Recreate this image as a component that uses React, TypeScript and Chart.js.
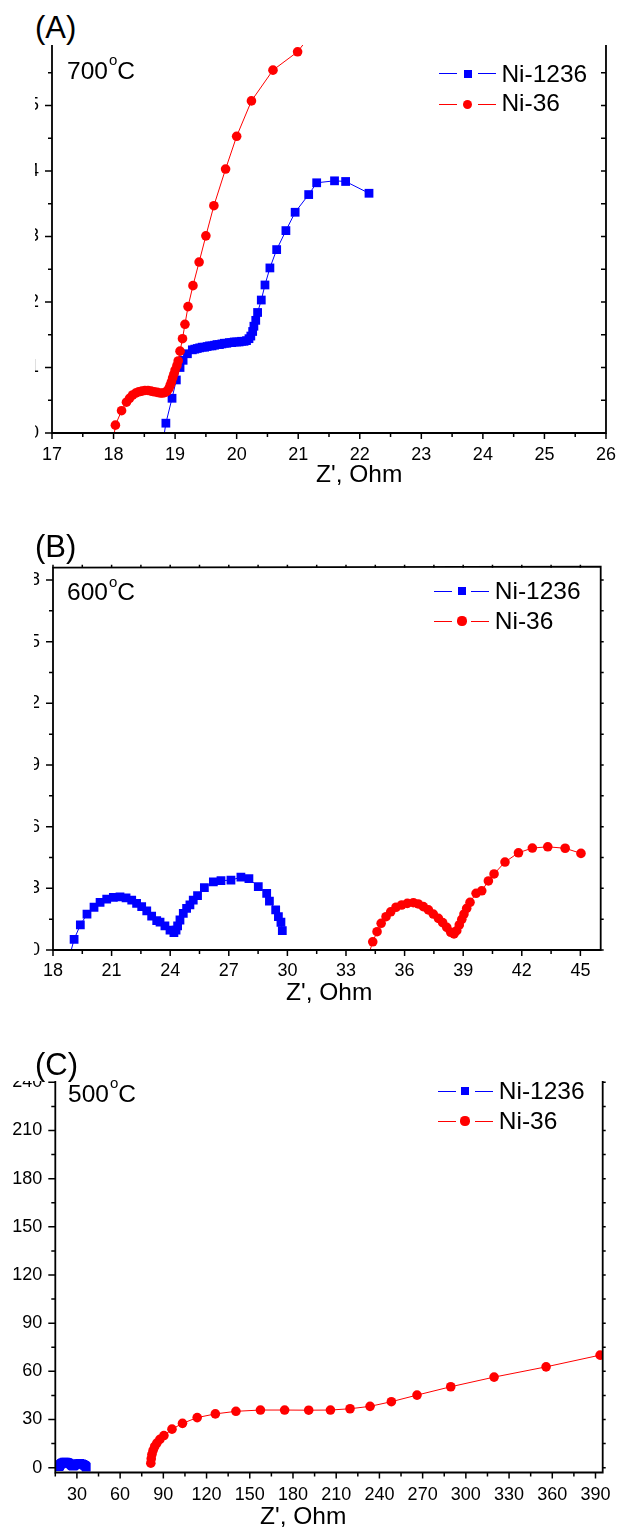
import React, { useEffect, useRef } from "react";
import { Chart, registerables } from "chart.js";

Chart.register(...registerables);

const FONT = '"Liberation Sans", Arial, Helvetica, sans-serif';
const BLUE = "#0000ff";
const RED = "#ff0000";
const SERIES_NAMES = ["Ni-1236", "Ni-36"];

// ---------- Panel A : 700 °C ----------
const a1236X = [18.81, 18.85, 18.95, 19.02, 19.08, 19.13, 19.2, 19.28, 19.32, 19.36, 19.4, 19.44, 19.48, 19.52, 19.56, 19.6, 19.64, 19.68, 19.72, 19.76, 19.8, 19.84, 19.88, 19.92, 19.96, 20.0, 20.04, 20.08, 20.12, 20.16, 20.2, 20.23, 20.26, 20.28, 20.31, 20.34, 20.4, 20.46, 20.54, 20.65, 20.8, 20.95, 21.17, 21.3, 21.59, 21.77, 22.15];
const a1236Y = [-0.1, 0.15, 0.53, 0.81, 1.0, 1.11, 1.21, 1.27, 1.28, 1.29, 1.3, 1.31, 1.31, 1.32, 1.33, 1.33, 1.34, 1.35, 1.35, 1.36, 1.37, 1.37, 1.38, 1.38, 1.39, 1.39, 1.39, 1.4, 1.4, 1.41, 1.44, 1.48, 1.55, 1.63, 1.72, 1.84, 2.03, 2.26, 2.52, 2.8, 3.09, 3.37, 3.64, 3.82, 3.85, 3.84, 3.66];
const a36X = [18.0, 18.03, 18.13, 18.21, 18.26, 18.31, 18.36, 18.41, 18.46, 18.51, 18.56, 18.61, 18.66, 18.71, 18.76, 18.8, 18.84, 18.87, 18.9, 18.92, 18.94, 18.96, 18.98, 19.0, 19.03, 19.05, 19.08, 19.12, 19.16, 19.21, 19.29, 19.39, 19.5, 19.63, 19.82, 20.0, 20.24, 20.59, 20.99, 21.3];
const a36Y = [-0.1, 0.12, 0.34, 0.47, 0.53, 0.58, 0.61, 0.63, 0.64, 0.65, 0.65, 0.64, 0.63, 0.62, 0.61, 0.61, 0.62, 0.64, 0.68, 0.73, 0.78, 0.84, 0.9, 0.96, 1.03, 1.1, 1.25, 1.44, 1.66, 1.93, 2.25, 2.61, 3.01, 3.47, 4.03, 4.53, 5.07, 5.54, 5.82, 6.2];
const aXTicks = [17, 18, 19, 20, 21, 22, 23, 24, 25, 26];
const aYTicks = [0, 1, 2, 3, 4, 5, 6];

// ---------- Panel B : 600 °C ----------
const b1236X = [18.85, 19.08, 19.4, 19.74, 20.1, 20.41, 20.75, 21.09, 21.43, 21.74, 22.03, 22.28, 22.54, 22.8, 23.05, 23.31, 23.48, 23.73, 23.99, 24.19, 24.3, 24.38, 24.5, 24.67, 24.84, 25.01, 25.18, 25.4, 25.75, 26.21, 26.6, 27.11, 27.62, 28.03, 28.51, 28.94, 29.08, 29.4, 29.54, 29.67, 29.74];
const b1236Y = [-0.3, 0.52, 1.22, 1.74, 2.08, 2.32, 2.47, 2.56, 2.59, 2.54, 2.43, 2.27, 2.11, 1.9, 1.65, 1.43, 1.36, 1.17, 0.97, 0.84, 0.97, 1.17, 1.46, 1.78, 2.03, 2.19, 2.43, 2.64, 3.03, 3.32, 3.37, 3.4, 3.54, 3.47, 3.08, 2.76, 2.38, 1.95, 1.62, 1.35, 0.94];
const b36X = [34.1, 34.37, 34.59, 34.8, 35.05, 35.29, 35.56, 35.85, 36.14, 36.45, 36.7, 36.96, 37.22, 37.47, 37.73, 37.95, 38.16, 38.36, 38.53, 38.67, 38.8, 38.93, 39.04, 39.18, 39.35, 39.66, 39.95, 40.29, 40.58, 41.14, 41.83, 42.54, 43.33, 44.22, 45.03];
const b36Y = [-0.4, 0.4, 0.89, 1.3, 1.62, 1.86, 2.08, 2.19, 2.27, 2.3, 2.24, 2.11, 1.95, 1.75, 1.54, 1.33, 1.1, 0.86, 0.78, 0.94, 1.22, 1.49, 1.75, 2.03, 2.32, 2.76, 2.88, 3.36, 3.7, 4.28, 4.73, 4.96, 5.02, 4.95, 4.7];
const bXTicks = [18, 21, 24, 27, 30, 33, 36, 39, 42, 45];
const bYTicks = [0, 3, 6, 9, 12, 15, 18];

// ---------- Panel C : 500 °C ----------
const c1236X = [17.6, 18.0, 18.6, 19.3, 20.2, 21.2, 22.3, 23.4, 24.4, 25.3, 26.1, 26.8, 27.4, 27.9, 28.6, 29.6, 30.8, 32.0, 33.2, 34.3, 35.3, 36.0, 36.5];
const c1236Y = [0.6, 1.3, 2.0, 2.6, 3.1, 3.4, 3.5, 3.3, 2.9, 2.4, 1.8, 1.3, 0.9, 1.3, 1.8, 2.2, 2.5, 2.6, 2.4, 2.0, 1.5, 0.9, 0.4];
const c36X = [81.3, 81.6, 82.1, 82.9, 84.0, 85.5, 87.6, 90.4, 96.0, 103.3, 113.5, 126.1, 140.4, 157.4, 174.2, 190.9, 206.0, 219.6, 233.5, 248.3, 266.1, 289.5, 319.6, 355.7, 393.2];
const c36Y = [2.8, 5.6, 8.3, 10.8, 13.2, 15.3, 17.6, 20.0, 24.0, 27.6, 31.2, 33.5, 35.1, 35.9, 35.9, 35.8, 35.9, 36.7, 38.2, 41.1, 45.2, 50.4, 56.4, 62.8, 70.1];
const cXTicks = [30, 60, 90, 120, 150, 180, 210, 240, 270, 300, 330, 360, 390];
const cYTicks = [0, 30, 60, 90, 120, 150, 180, 210, 240];

const toPoints = (xs: number[], ys: number[]) => xs.map((x, i) => ({ x, y: ys[i] }));

function minorTicks(major: number[], min: number, max: number) {
  const step = major[1] - major[0];
  const out: number[] = [];
  for (let i = -1; i < major.length; i++) {
    const v = (i < 0 ? major[0] - step : major[i]) + step / 2;
    if (v >= min - 1e-9 && v <= max + 1e-9) out.push(v);
  }
  return out;
}

const originAxes = {
  id: "originAxes",
  afterDatasetsDraw(chart: any, _args: any, opts: any) {
    const { ctx, chartArea, scales } = chart;
    const { left, right, top, bottom } = chartArea;
    const xs = scales.x;
    const ys = scales.y;
    ctx.save();
    ctx.strokeStyle = "#000";
    ctx.lineCap = "butt";
    ctx.lineWidth = 1.8;
    ctx.beginPath();
    ctx.moveTo(left, top - 1);
    ctx.lineTo(left, bottom);
    ctx.lineTo(right, bottom);
    ctx.lineTo(right, top - 1);
    if (opts.topSpine) ctx.lineTo(left - 0.9, top);
    ctx.stroke();

    ctx.lineWidth = 1.5;
    const xMaj = opts.xTicks.filter((v: number) => v >= xs.min && v <= xs.max);
    const xMin = minorTicks(opts.xTicks, xs.min, xs.max);
    const yMaj = opts.yTicks.filter((v: number) => v >= ys.min && v <= ys.max);
    const yMin = minorTicks(opts.yTicks, ys.min, ys.max);
    ctx.beginPath();
    const vX = (vals: number[], y0: number, len: number) => {
      vals.forEach((v) => {
        const p = xs.getPixelForValue(v);
        ctx.moveTo(p, y0);
        ctx.lineTo(p, y0 + len);
      });
    };
    const hY = (vals: number[], x0: number, len: number) => {
      vals.forEach((v) => {
        const p = ys.getPixelForValue(v);
        ctx.moveTo(x0, p);
        ctx.lineTo(x0 + len, p);
      });
    };
    vX(xMaj, bottom, 6);
    vX(xMin, bottom, 4);
    hY(yMaj, left, -7);
    hY(yMin, left, -4);
    hY(yMaj, right, opts.rightLen);
    hY(yMin, right, opts.rightLen);
    if (opts.topSpine) {
      vX(xMaj, top, -3);
      vX(xMin, top, -3);
    }
    ctx.stroke();
    ctx.restore();
  },
};

type PanelSpec = {
  label: string;
  temp: string;
  canvasTop: number;
  canvasH: number;
  clipL: number;
  clipT: number;
  clipB: number;
  padT: number;
  padR: number;
  wy: number;
  hx: number;
  xMin: number;
  xMax: number;
  yMin: number;
  yMax: number;
  xTicks: number[];
  yTicks: number[];
  s1: { x: number; y: number }[];
  s2: { x: number; y: number }[];
  xLabelPad: number;
  topSpine: boolean;
  rightLen: number;
  labelPos: [number, number];
  tempPos: [number, number];
  legend: { l1: [number, number]; m: number; l2: [number, number]; tx: number; rows: [number, number]; textTop: [number, number] };
  titlePos: [number, number];
};

const panels: PanelSpec[] = [
  {
    label: "(A)", temp: "700",
    canvasTop: 0, canvasH: 500, clipL: 35, clipT: 45, clipB: 500,
    padT: 40, padR: 15.5, wy: 52, hx: 67,
    xMin: 17, xMax: 26, yMin: 0, yMax: 6,
    xTicks: aXTicks, yTicks: aYTicks,
    s1: toPoints(a1236X, a1236Y), s2: toPoints(a36X, a36Y),
    xLabelPad: 11, topSpine: false, rightLen: -5,
    labelPos: [35, 12.4], tempPos: [67, 58.5],
    legend: { l1: [439, 457], m: 467.7, l2: [478, 496], tx: 501.4, rows: [73.5, 104.4], textTop: [62, 91.3] },
    titlePos: [316, 461.8],
  },
  {
    label: "(B)", temp: "600",
    canvasTop: 500, canvasH: 530, clipL: 34, clipT: 500, clipB: 1030,
    padT: 67.7, padR: 26.3, wy: 53, hx: 80,
    xMin: 18, xMax: 46.04, yMin: 0, yMax: 18.6,
    xTicks: bXTicks, yTicks: bYTicks,
    s1: toPoints(b1236X, b1236Y), s2: toPoints(b36X, b36Y),
    xLabelPad: 10, topSpine: true, rightLen: 3,
    labelPos: [35, 531.4], tempPos: [67, 580.1],
    legend: { l1: [434, 452], m: 462, l2: [471, 489], tx: 494.8, rows: [591, 621], textTop: [579.3, 609.3] },
    titlePos: [286, 980],
  },
  {
    label: "(C)", temp: "500",
    canvasTop: 1030, canvasH: 498, clipL: 0, clipT: 1081, clipB: 1528,
    padT: 44.3, padR: 24.3, wy: 55.3, hx: 55.5,
    xMin: 15, xMax: 395, yMin: -3, yMax: 245,
    xTicks: cXTicks, yTicks: cYTicks,
    s1: toPoints(c1236X, c1236Y), s2: toPoints(c36X, c36Y),
    xLabelPad: 11.5, topSpine: false, rightLen: 3,
    labelPos: [35, 1049.4], tempPos: [68, 1081.8],
    legend: { l1: [437.7, 455.7], m: 465, l2: [475, 492.7], tx: 498.8, rows: [1091, 1121], textTop: [1079.3, 1108.6] },
    titlePos: [260, 1503.5],
  },
];

function PanelChart({ p }: { p: PanelSpec }) {
  const ref = useRef<HTMLCanvasElement>(null);
  useEffect(() => {
    const tickFont = { family: FONT, size: 18 };
    const hiddenGrid = { display: true, drawOnChartArea: false, drawTicks: false, color: "rgba(0,0,0,0)" };
    const chart = new Chart(ref.current as HTMLCanvasElement, {
      type: "line",
      data: {
        datasets: [
          {
            label: SERIES_NAMES[0],
            data: p.s1,
            borderColor: BLUE,
            backgroundColor: BLUE,
            borderWidth: 1,
            pointStyle: "rect",
            pointRadius: 6.2,
            pointBorderWidth: 0,
            pointBackgroundColor: BLUE,
            tension: 0,
            order: 2,
          },
          {
            label: SERIES_NAMES[1],
            data: p.s2,
            borderColor: RED,
            backgroundColor: RED,
            borderWidth: 1,
            pointStyle: "circle",
            pointRadius: 4.8,
            pointBorderWidth: 0,
            pointBackgroundColor: RED,
            tension: 0,
            order: 1,
          },
        ],
      },
      options: {
        responsive: false,
        animation: false,
        events: [],
        layout: { padding: { left: 0, right: p.padR, top: p.padT, bottom: 0 } },
        scales: {
          x: {
            type: "linear",
            min: p.xMin,
            max: p.xMax,
            grid: hiddenGrid,
            border: { display: false },
            ticks: { font: tickFont, color: "#000", padding: p.xLabelPad, maxRotation: 0, autoSkip: false },
            afterBuildTicks: (s: any) => {
              s.ticks = p.xTicks.map((v) => ({ value: v }));
            },
            afterFit: (s: any) => {
              s.height = p.hx;
            },
          },
          y: {
            type: "linear",
            min: p.yMin,
            max: p.yMax,
            grid: hiddenGrid,
            border: { display: false },
            ticks: { font: tickFont, color: "#000", padding: 13, autoSkip: false },
            afterBuildTicks: (s: any) => {
              s.ticks = p.yTicks.map((v) => ({ value: v }));
            },
            afterFit: (s: any) => {
              s.width = p.wy;
            },
          },
        },
        plugins: {
          legend: { display: false },
          tooltip: { enabled: false },
          title: { display: false },
          originAxes: { xTicks: p.xTicks, yTicks: p.yTicks, topSpine: p.topSpine, rightLen: p.rightLen },
        } as any,
      },
      plugins: [originAxes as any],
    } as any);
    return () => chart.destroy();
  }, [p]);

  return (
    <div
      style={{
        position: "absolute",
        left: p.clipL,
        top: p.clipT,
        width: 627 - p.clipL,
        height: p.clipB - p.clipT,
        overflow: "hidden",
      }}
    >
      <canvas
        ref={ref}
        width={627}
        height={p.canvasH}
        style={{ position: "absolute", left: -p.clipL, top: p.canvasTop - p.clipT, width: 627, height: p.canvasH }}
      />
    </div>
  );
}

const text24 = { position: "absolute" as const, fontFamily: FONT, fontSize: 24.5, lineHeight: "24.5px", whiteSpace: "nowrap" as const, color: "#000" };

function Overlay({ p }: { p: PanelSpec }) {
  const lg = p.legend;
  const colors = [BLUE, RED];
  return (
    <>
      <div style={{ position: "absolute", left: p.labelPos[0], top: p.labelPos[1], fontFamily: FONT, fontSize: 31, lineHeight: "31px", whiteSpace: "nowrap", color: "#000" }}>
        {p.label}
      </div>
      <div style={{ ...text24, left: p.tempPos[0], top: p.tempPos[1] }}>
        {p.temp}
        <span style={{ fontSize: 15, position: "relative", top: -13.5, marginLeft: 1 }}>o</span>C
      </div>
      {SERIES_NAMES.map((name, i) => (
        <React.Fragment key={name}>
          <div style={{ position: "absolute", left: lg.l1[0], top: lg.rows[i] - 0.5, width: lg.l1[1] - lg.l1[0], height: 1, background: colors[i] }} />
          <div style={{ position: "absolute", left: lg.l2[0], top: lg.rows[i] - 0.5, width: lg.l2[1] - lg.l2[0], height: 1, background: colors[i] }} />
          {i === 0 ? (
            <div style={{ position: "absolute", left: lg.m - 4, top: lg.rows[i] - 4, width: 8, height: 8, background: BLUE }} />
          ) : (
            <div style={{ position: "absolute", left: lg.m - 4.6, top: lg.rows[i] - 4.6, width: 9.2, height: 9.2, borderRadius: "50%", background: RED }} />
          )}
          <div style={{ ...text24, left: lg.tx, top: lg.textTop[i] }}>{name}</div>
        </React.Fragment>
      ))}
      <div style={{ ...text24, left: p.titlePos[0], top: p.titlePos[1] }}>Z', Ohm</div>
    </>
  );
}

export default function App() {
  return (
    <div style={{ position: "absolute", left: 0, top: 0, width: 627, height: 1528, overflow: "hidden", background: "#fff" }}>
      {panels.map((p) => (
        <React.Fragment key={p.label}>
          <PanelChart p={p} />
          <Overlay p={p} />
        </React.Fragment>
      ))}
    </div>
  );
}
